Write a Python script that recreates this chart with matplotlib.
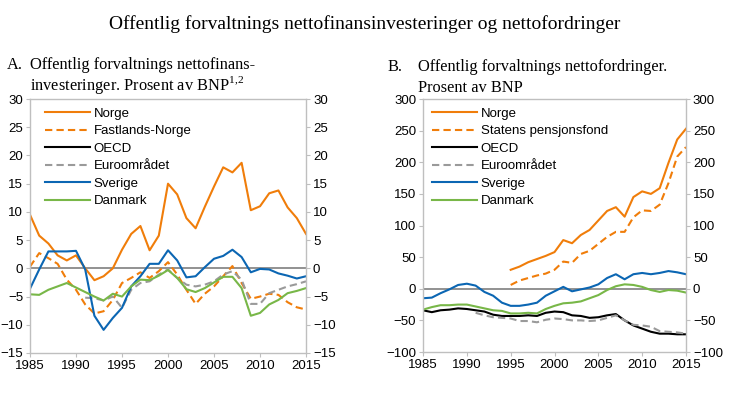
import matplotlib
matplotlib.use('Agg')
import matplotlib.pyplot as plt

plt.rcParams['font.family'] = 'Liberation Sans'
plt.rcParams['mathtext.fontset'] = 'custom'
plt.rcParams['mathtext.rm'] = 'Liberation Serif'

years = list(range(1985, 2016))

# Panel A: nettofinansinvesteringer, prosent av BNP
norge_a = [9.5, 5.8, 4.4, 2.3, 1.4, 2.3, 0.0, -2.1, -1.4, 0.0, 3.3, 6.1, 7.5, 3.2, 5.8, 15.0,
           13.1, 8.9, 7.1, 10.9, 14.5, 17.9, 17.0, 18.7, 10.3, 11.0, 13.3, 13.8, 10.8, 8.9, 6.1]
fastland_a = [0.3, 2.7, 1.8, 0.8, -2.0, -3.8, -6.4, -8.0, -7.6, -5.6, -2.6, -1.7, -0.7, -1.7, -0.5, 1.1,
              -1.1, -3.8, -6.3, -4.5, -3.2, -1.4, 0.4, -2.6, -5.4, -5.0, -4.5, -4.7, -6.0, -6.9, -7.3]
oecd_a = []
euro_years_a = list(range(1991, 2016))
euro_a = [-5.2, -5.3, -5.7, -5.0, -7.0, -3.8, -2.6, -2.3, -1.1, -0.2,
          -1.7, -2.9, -3.2, -2.9, -2.3, -1.1, -0.5, -2.0, -6.3, -6.3, -4.4, -3.8, -3.2, -2.8, -2.3]
sverige_a = [-3.6, -0.2, 3.0, 3.0, 3.0, 3.1, -0.2, -8.4, -10.9, -8.8, -7.0, -3.2, -1.4, 0.8, 0.8, 3.2,
             1.4, -1.6, -1.4, 0.2, 1.7, 2.2, 3.3, 2.0, -0.7, -0.1, -0.2, -0.9, -1.3, -1.8, -1.4]
danmark_a = [-4.6, -4.7, -3.8, -3.2, -2.6, -3.4, -4.2, -5.0, -5.7, -4.5, -5.0, -3.2, -2.0, -2.1, -1.3, -0.3,
             -1.7, -3.7, -4.2, -3.5, -2.5, -1.5, -1.5, -3.5, -8.4, -7.9, -6.4, -5.6, -4.4, -4.0, -3.5]

# Panel B: nettofordringer, prosent av BNP
norge_years_b = list(range(1995, 2016))
norge_b = [30, 35, 42, 47, 52, 58, 77, 72, 85, 93, 108, 123, 129, 114, 145, 154, 150, 159, 199, 236, 253]
spf_b = [6, 13, 17, 21, 24, 30, 43, 41, 55, 60, 71, 82, 90, 90, 113, 124, 123, 133, 167, 209, 224]
oecd_b = [-34, -37, -34, -33, -31, -32, -34, -36, -41, -43, -43, -43, -42, -43, -38, -36,
          -37, -42, -43, -46, -45, -42, -40, -50, -58, -63, -68, -71, -71, -72, -72]
euro_years_b = list(range(1991, 2016))
euro_b = [-38, -42, -45, -46, -47, -51, -51, -53, -49, -47, -48, -50, -50, -51, -50, -46,
          -42, -50, -57, -58, -60, -67, -68, -69, -71]
sverige_b = [-15, -14, -7, -1, 6, 8, 5, -5, -11, -22, -27, -27, -25, -22, -11, -4,
             3, -4, -1, 2, 7, 17, 23, 15, 23, 25, 23, 25, 28, 26, 23]
danmark_b = [-33, -29, -26, -26, -25, -25, -28, -31, -34, -35, -39, -39, -38, -39, -32, -27,
             -23, -22, -20, -15, -10, -2, 4, 7, 6, 3, -2, -5, -2, -3, -6]

orange = '#F07D0A'
blue = '#0B66B3'
green = '#78B748'
grey = '#9A9A9A'
lw = 1.5
dash = (0, (3.5, 2))

fig = plt.figure(figsize=(7.3, 3.93), dpi=100)
ax1 = fig.add_axes([0.0411, 0.1018, 0.3781, 0.6462])
ax2 = fig.add_axes([0.5795, 0.1043, 0.3602, 0.6437])

ax1.plot(years, norge_a, color=orange, lw=lw, label='Norge')
ax1.plot(years, fastland_a, color=orange, lw=lw, ls=dash, label='Fastlands-Norge')
ax1.plot(years[:len(oecd_a)], oecd_a, color='black', lw=lw, label='OECD')
ax1.plot(euro_years_a, euro_a, color=grey, lw=lw, ls=dash, label='Euroområdet')
ax1.plot(years, sverige_a, color=blue, lw=lw, label='Sverige')
ax1.plot(years, danmark_a, color=green, lw=lw, label='Danmark')
ax1.set_ylim(-15, 30)
ax1.set_yticks(range(-15, 31, 5))

ax2.plot(norge_years_b, norge_b, color=orange, lw=lw, label='Norge')
ax2.plot(norge_years_b, spf_b, color=orange, lw=lw, ls=dash, label='Statens pensjonsfond')
ax2.plot(years, oecd_b, color='black', lw=lw, label='OECD')
ax2.plot(euro_years_b, euro_b, color=grey, lw=lw, ls=dash, label='Euroområdet')
ax2.plot(years, sverige_b, color=blue, lw=lw, label='Sverige')
ax2.plot(years, danmark_b, color=green, lw=lw, label='Danmark')
ax2.set_ylim(-100, 300)
ax2.set_yticks(range(-100, 301, 50))

for ax, lx in ((ax1, 0.054), (ax2, 0.034)):
    ax.axhline(0, color='#7F7F7F', lw=1.2, zorder=0)
    ax.set_xlim(1985, 2015)
    ax.set_xticks(range(1985, 2016, 5))
    for s in ax.spines.values():
        s.set_color('#BFBFBF')
        s.set_linewidth(1.0)
    ax.tick_params(labelsize=9.5, length=3, color='#BFBFBF', right=True, labelright=True,
                   labelcolor='black', pad=2)
    ax.legend(loc='upper left', frameon=False, fontsize=9.5, handlelength=3.4,
              labelspacing=0.4, borderpad=0, borderaxespad=0, handletextpad=0.3,
              bbox_to_anchor=(lx, 0.967))

serif = 'Liberation Serif'
fig.text(0.5, 0.939, 'Offentlig forvaltnings nettofinansinvesteringer og nettofordringer',
         ha='center', va='center', family=serif, fontsize=14)
fig.text(0.009, 0.835, 'A.', ha='left', va='center', family=serif, fontsize=11.8)
fig.text(0.041, 0.835, 'Offentlig forvaltnings nettofinans-', ha='left', va='center',
         family=serif, fontsize=11.8)
fig.text(0.041, 0.784, 'investeringer. Prosent av BNP$^{\\mathrm{1{,}2}}$', ha='left', va='center',
         family=serif, fontsize=11.8)
fig.text(0.531, 0.83, 'B.', ha='left', va='center', family=serif, fontsize=11.8)
fig.text(0.572, 0.83, 'Offentlig forvaltnings nettofordringer.', ha='left', va='center',
         family=serif, fontsize=11.8)
fig.text(0.572, 0.776, 'Prosent av BNP', ha='left', va='center', family=serif, fontsize=11.8)

fig.savefig('out.png', dpi=100)
